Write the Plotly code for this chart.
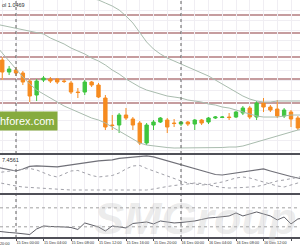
import plotly.graph_objects as go
import pandas as pd

# ---------------- data ----------------
bar_times = pd.date_range("2016-12-14 22:00", periods=44, freq="h")
ind_times = pd.date_range("2016-12-14 21:00", periods=46, freq="h")

opens = [1.0540, 1.0528, 1.0530, 1.0527, 1.0519, 1.0505, 1.0520, 1.0521, 1.0521, 1.0519,
         1.0517, 1.0508, 1.0508, 1.0518, 1.0515, 1.0502, 1.0475, 1.0475, 1.0485, 1.0481,
         1.0477, 1.0457, 1.0475, 1.0478, 1.0480, 1.0477, 1.0476, 1.0478, 1.0476, 1.0480,
         1.0478, 1.0482, 1.04825, 1.0483, 1.0483, 1.0487, 1.0492, 1.0483, 1.0497, 1.0493,
         1.0491, 1.0484, 1.0488, 1.0482]
highs = [1.0543, 1.0534, 1.0533, 1.0529, 1.0521, 1.0521, 1.0524, 1.0523, 1.0522, 1.0521,
         1.0519, 1.0512, 1.0520, 1.0519, 1.0517, 1.0505, 1.0485, 1.0487, 1.0492, 1.0483,
         1.0479, 1.0477, 1.0480, 1.0483, 1.0482, 1.0481, 1.0479, 1.0479, 1.0481, 1.0481,
         1.0483, 1.0484, 1.0484, 1.0487, 1.0489, 1.0494, 1.0494, 1.0499, 1.0502, 1.0495,
         1.0500, 1.0492, 1.0490, 1.0484]
lows = [1.0520, 1.0525, 1.0524, 1.0515, 1.0498, 1.0499, 1.0518, 1.0517, 1.0516, 1.0517,
        1.0506, 1.0502, 1.0505, 1.0513, 1.0502, 1.0470, 1.0470, 1.0467, 1.0480, 1.0470,
        1.0455, 1.0455, 1.0470, 1.0477, 1.0467, 1.0473, 1.0474, 1.0474, 1.0470, 1.0475,
        1.0476, 1.0481, 1.0482, 1.0480, 1.0482, 1.0485, 1.0481, 1.0480, 1.0488, 1.0488,
        1.0482, 1.0482, 1.0473, 1.0470]
closes = [1.0528, 1.0531, 1.0527, 1.0518, 1.0504, 1.0519, 1.0522, 1.0519, 1.0518, 1.05185,
          1.0508, 1.05075, 1.0518, 1.0515, 1.0503, 1.0473, 1.04745, 1.0485, 1.0482, 1.0475,
          1.0457, 1.0475, 1.0478, 1.0482, 1.0473, 1.04765, 1.0478, 1.0476, 1.0480, 1.0477,
          1.0482, 1.0483, 1.0483, 1.04825, 1.0488, 1.0492, 1.0483, 1.0497, 1.0493, 1.0490,
          1.0484, 1.0490, 1.0481, 1.0472]

band_upper = [1.0640, 1.0637, 1.0634, 1.0631, 1.0628, 1.0625, 1.0622, 1.0619, 1.0616, 1.0613,
              1.0610, 1.0607, 1.0605, 1.0603, 1.06015, 1.0600, 1.0597, 1.0594, 1.0590, 1.0584,
              1.0577, 1.0568, 1.0558, 1.0551, 1.0546, 1.0542, 1.0539, 1.0536, 1.0533, 1.0530,
              1.0527, 1.0524, 1.0520, 1.0516, 1.0512, 1.0508, 1.0504, 1.0501, 1.0499, 1.0498,
              1.0498, 1.0499, 1.0499, 1.0499, 1.0499, 1.0499]
band_mid = [1.0576, 1.05745, 1.0573, 1.0572, 1.0570, 1.0569, 1.05675, 1.0566, 1.0562, 1.0559,
            1.0556, 1.0552, 1.0549, 1.0546, 1.0542, 1.0539, 1.0535, 1.0530, 1.0526, 1.0521,
            1.0517, 1.0513, 1.0510, 1.0508, 1.0506, 1.0504, 1.0503, 1.0502, 1.0500, 1.0499,
            1.0498, 1.0496, 1.0495, 1.0493, 1.0492, 1.0490, 1.0488, 1.0486, 1.0484, 1.0483,
            1.0483, 1.0483, 1.0484, 1.0485, 1.0485, 1.0485]
band_lower = [1.0555, 1.0547, 1.0538, 1.0530, 1.0523, 1.0516, 1.0510, 1.0506, 1.0502, 1.0498,
              1.0494, 1.0491, 1.0488, 1.0485, 1.0482, 1.0480, 1.0477, 1.0473, 1.0469, 1.0465,
              1.0461, 1.0457, 1.0455, 1.0454, 1.0453, 1.04525, 1.0452, 1.0452, 1.0452, 1.0452,
              1.0452, 1.0452, 1.0452, 1.04525, 1.0453, 1.0453, 1.0454, 1.0456, 1.0458, 1.0460,
              1.0462, 1.0464, 1.0466, 1.0468, 1.0470, 1.0471]

level_prices = [1.0585, 1.0567, 1.0543, 1.0521, 1.0497]
day_separators = ["2016-12-15 00:00", "2016-12-16 00:00"]

adx_main = [26, 24.5, 23, 22, 24, 26.5, 27, 26.5, 26, 26, 27, 28, 29.5, 30, 31, 32, 32.5, 33,
            34.5, 35, 36, 36.5, 37, 36, 34, 32, 30, 28, 26, 24, 22, 20, 18.5, 18, 19, 20,
            21.5, 22, 23, 24, 22, 20, 18, 16.5, 15, 14]
adx_plus = [20, 21, 22, 23, 24, 24.5, 23, 20, 17.5, 16, 19, 22, 22.5, 20, 17.5, 16, 16.5, 17.5,
            20, 24, 27, 27.5, 24.5, 22, 19, 17, 14.5, 12, 10, 9, 8, 8.5, 9.5, 11, 13, 15, 16,
            15, 13, 11, 9, 7, 6, 8, 10, 11]
adx_minus = [11, 9.5, 8, 7, 6, 5.5, 5.5, 5, 4.5, 4, 3.5, 3, 3, 3, 3, 3, 3, 3, 3, 3, 3, 3, 3,
             4, 5.5, 6.5, 7.5, 8, 9, 10, 9.5, 8, 6.5, 5.5, 5, 5, 5.5, 6, 6.5, 8, 10, 12, 13,
             14.5, 16, 17]

osc = [16.3, 14.0, 12.8, 11.6, 10.5, 8.1, 20.9, 27.9, 26.7, 26.7, 25.6, 24.4, 19.8, 34.9, 30.2,
       25.6, 16.3, 27.9, 25.6, 23.3, 33.7, 36.0, 37.2, 32.6, 39.5, 37.2, 34.9, 36.0, 37.2, 39.5,
       43.0, 46.5, 47.7, 48.8, 51.2, 58.1, 51.2, 55.8, 60.5, 55.8, 51.2, 41.9, 48.8, 32.6, 44.2,
       46.5]
osc_levels = [70, 26]

x_range = ["2016-12-14 21:40:22", "2016-12-16 17:18:33"]

BAND_C = "#a9bcae"
BULL = "#3fc63f"
BEAR = "#f68b1f"
SMALL_FONT = "Liberation Sans Narrow, Liberation Sans"
TICK_SIZE = 3.8

fig = go.Figure()

fig.add_trace(go.Candlestick(
    x=bar_times, open=opens, high=highs, low=lows, close=closes,
    increasing=dict(line=dict(color=BULL, width=1), fillcolor=BULL),
    decreasing=dict(line=dict(color=BEAR, width=1), fillcolor=BEAR),
    whiskerwidth=0, xaxis="x", yaxis="y", showlegend=False))

for band in (band_upper, band_mid, band_lower):
    fig.add_trace(go.Scatter(x=ind_times, y=band, mode="lines",
                             line=dict(color=BAND_C, width=1), xaxis="x", yaxis="y",
                             showlegend=False, hoverinfo="skip"))

fig.add_trace(go.Scatter(x=ind_times, y=adx_main, mode="lines",
                         line=dict(color="#707078", width=1.2), xaxis="x2", yaxis="y2",
                         showlegend=False))
fig.add_trace(go.Scatter(x=ind_times, y=adx_plus, mode="lines",
                         line=dict(color="#a0a0a8", width=1, dash="dot"), xaxis="x2", yaxis="y2",
                         showlegend=False))
fig.add_trace(go.Scatter(x=ind_times, y=adx_minus, mode="lines",
                         line=dict(color="#a0a0a8", width=1, dash="dot"), xaxis="x2", yaxis="y2",
                         showlegend=False))

fig.add_trace(go.Scatter(x=ind_times, y=osc, mode="lines",
                         line=dict(color="#606068", width=1), xaxis="x3", yaxis="y3",
                         showlegend=False))

shapes = []
for lp in level_prices:
    shapes.append(dict(type="line", xref="paper", yref="y", x0=0, x1=1, y0=lp, y1=lp,
                       line=dict(color="#b37c7f", width=1.5), layer="below"))
for lv in osc_levels:
    shapes.append(dict(type="line", xref="paper", yref="y3", x0=0, x1=1, y0=lv, y1=lv,
                       line=dict(color="#a0a0a0", width=1, dash="dot")))
for ds in day_separators:
    shapes.append(dict(type="line", xref="x", yref="paper", x0=ds, x1=ds, y0=0, y1=1,
                       line=dict(color="#606060", width=1, dash="dot")))
# panel borders
for yb in (0.353, 0.185, 0.0):
    shapes.append(dict(type="line", xref="paper", yref="paper", x0=0, x1=1, y0=yb, y1=yb,
                       line=dict(color="#505058", width=2)))
fig.update_layout(shapes=shapes)

grid_c = "#f0eef3"
common_x = dict(range=x_range, type="date", showgrid=True, gridcolor=grid_c, gridwidth=1,
                tick0="2016-12-15 00:00", dtick=4 * 3600 * 1000, zeroline=False,
                rangeslider=dict(visible=False),
                minor=dict(dtick=2 * 3600 * 1000, showgrid=True, gridcolor=grid_c))
fig.update_layout(
    width=300, height=250,
    margin=dict(l=0, r=0, t=0, b=12),
    paper_bgcolor="white", plot_bgcolor="white",
    xaxis=dict(**common_x, domain=[0, 1], anchor="y", showticklabels=False),
    xaxis2=dict(**common_x, domain=[0, 1], anchor="y2", matches="x", showticklabels=False),
    xaxis3=dict(**common_x, domain=[0, 1], anchor="y3", matches="x", showticklabels=True,
                tickformat="%d %b %H:%M", tickangle=0, ticks="outside", ticklen=2,
                tickcolor="#505058", ticklabelposition="outside right",
                tickfont=dict(family=SMALL_FONT, size=TICK_SIZE, color="#303030")),
    yaxis=dict(domain=[0.357, 1], range=[1.0447, 1.0600], showticklabels=False,
               showgrid=True, gridcolor=grid_c, dtick=0.0010, tick0=1.0440, zeroline=False),
    yaxis2=dict(domain=[0.189, 0.349], range=[0, 38], showticklabels=False,
                showgrid=False, zeroline=False),
    yaxis3=dict(domain=[0, 0.181], range=[0, 100], showticklabels=False,
                showgrid=False, zeroline=False),
)

# visible tail of the previous time label at the left edge
fig.add_annotation(x=0, y=0, xref="paper", yref="paper", xanchor="left", yanchor="top",
                   yshift=-2, xshift=-2, text="20:00", showarrow=False,
                   font=dict(family=SMALL_FONT, size=TICK_SIZE, color="#303030"))
fig.add_annotation(x=0, y=1, xref="paper", yref="paper", xanchor="left", yanchor="top",
                   text="ol 1.0469", showarrow=False,
                   font=dict(family=SMALL_FONT, size=5.5, color="#303030"))
fig.add_annotation(x=0, y=0.349, xref="paper", yref="paper", xanchor="left", yanchor="top",
                   text="7.4561", showarrow=False, bgcolor="white",
                   font=dict(family=SMALL_FONT, size=5.5, color="#303030"))
fig.add_annotation(x=-0.012, y=0.49, xref="paper", yref="paper", xanchor="left",
                   yanchor="middle", text="hforex.com", showarrow=False, bgcolor="#86ab3e",
                   borderpad=3,
                   font=dict(family="Liberation Sans, Arial", size=11, color="white"))
fig.add_annotation(x=0.65, y=0.08, xref="paper", yref="paper", xanchor="center",
                   yanchor="middle", text="<i><b>SMGroup</b></i>", showarrow=False,
                   font=dict(family="Liberation Sans", size=45, color="rgba(190,190,190,0.3)"))

fig.write_html("out.html")
